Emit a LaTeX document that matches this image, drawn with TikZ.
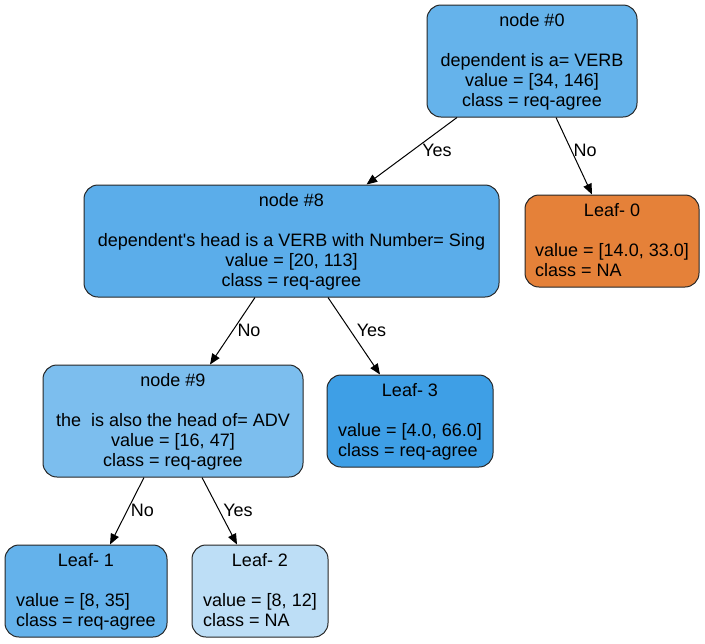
\documentclass[tikz,border=0pt]{standalone}
\usepackage{fontspec}
\setmainfont{Liberation Sans}
\usetikzlibrary{arrows.meta,calc}
\definecolor{cn0}{HTML}{65B3EB}
\definecolor{cn8}{HTML}{5BADEA}
\definecolor{cn9}{HTML}{7CBEEE}
\definecolor{cl0}{HTML}{E58139}
\definecolor{cl1}{HTML}{64B2EB}
\definecolor{cl2}{HTML}{BDDEF6}
\definecolor{cl3}{HTML}{3E9FE6}
\newcommand{\leaftext}[3]{\begin{tabular}{@{}l@{}}\multicolumn{1}{@{}c@{}}{\rule{0pt}{12.5pt}#1}\\ \\ #2\\ #3\end{tabular}}
\newcommand{\splittext}[4]{\begin{tabular}{@{}c@{}}\rule{0pt}{13pt}#1\\ \\ #2\\ #3\\ #4\end{tabular}}
\begin{document}
\begin{tikzpicture}[x=0.75pt,y=-0.75pt,
  txt/.style={font=\fontsize{13.5}{15}\selectfont},
  box/.style={txt, draw=black!85, line width=0.75pt, rounded corners=10.5pt,
    inner sep=0pt, minimum height=84pt},
  leafbox/.style={box, minimum height=69pt},
  conn/.style={-{Triangle[length=8pt,width=6.5pt]}, line width=0.75pt},
  lbl/.style={txt, inner sep=0pt}]
\useasboundingbox (0,0) rectangle (705,643);
% internal nodes
\node[box, fill=cn0, minimum width=157.5pt] (n0) at (532,61)
  {\splittext{node \#0}{dependent is a= VERB}{value = [34, 146]}{class = req-agree}};
\node[box, fill=cn8, minimum width=311.25pt] (n8) at (291.5,241)
  {\splittext{node \#8}{dependent\textquotesingle s head is a VERB with Number= Sing}{value = [20, 113]}{class = req-agree}};
\node[box, fill=cn9, minimum width=195pt] (n9) at (173,421)
  {\splittext{node \#9}{the\ \ is also the head of= ADV}{value = [16, 47]}{class = req-agree}};
% leaves
\node[leafbox, fill=cl0, minimum width=130.5pt] (l0) at (612,241)
  {\leaftext{Leaf- 0}{value = [14.0, 33.0]}{class = NA}};
\node[leafbox, fill=cl3, minimum width=124.5pt] (l3) at (410,421)
  {\leaftext{Leaf- 3}{value = [4.0, 66.0]}{class = req-agree}};
\node[leafbox, fill=cl1, minimum width=121.5pt] (l1) at (86,591)
  {\leaftext{Leaf- 1}{value = [8, 35]}{class = req-agree}};
\node[leafbox, fill=cl2, minimum width=102pt] (l2) at (260,591)
  {\leaftext{Leaf- 2}{value = [8, 12]}{class = NA}};
% connectors
\draw[conn] ($(n0.south)+(-75,0)$) -- ($(n8.north)+(75,0)$);
\draw[conn] ($(n0.south)+(24,0)$) -- ($(l0.north)+(-20,0)$);
\draw[conn] ($(n8.south)+(-36.5,0)$) -- ($(n9.north)+(37,0)$);
\draw[conn] ($(n8.south)+(36.5,0)$) -- ($(l3.north)+(-30,0)$);
\draw[conn] ($(n9.south)+(-29,0)$) -- ($(l1.north)+(24,0)$);
\draw[conn] ($(n9.south)+(29,0)$) -- ($(l2.north)+(-23,0)$);
% edge labels
\node[lbl] (t1) at (437,150) {Yes};
\node[lbl] (t2) at (585,150) {No};
\node[lbl] (t3) at (249,330) {No};
\node[lbl] (t4) at (371.5,330) {Yes};
\node[lbl] (t5) at (142.5,510) {No};
\node[lbl] (t6) at (238,510) {Yes};
\end{tikzpicture}
\end{document}
